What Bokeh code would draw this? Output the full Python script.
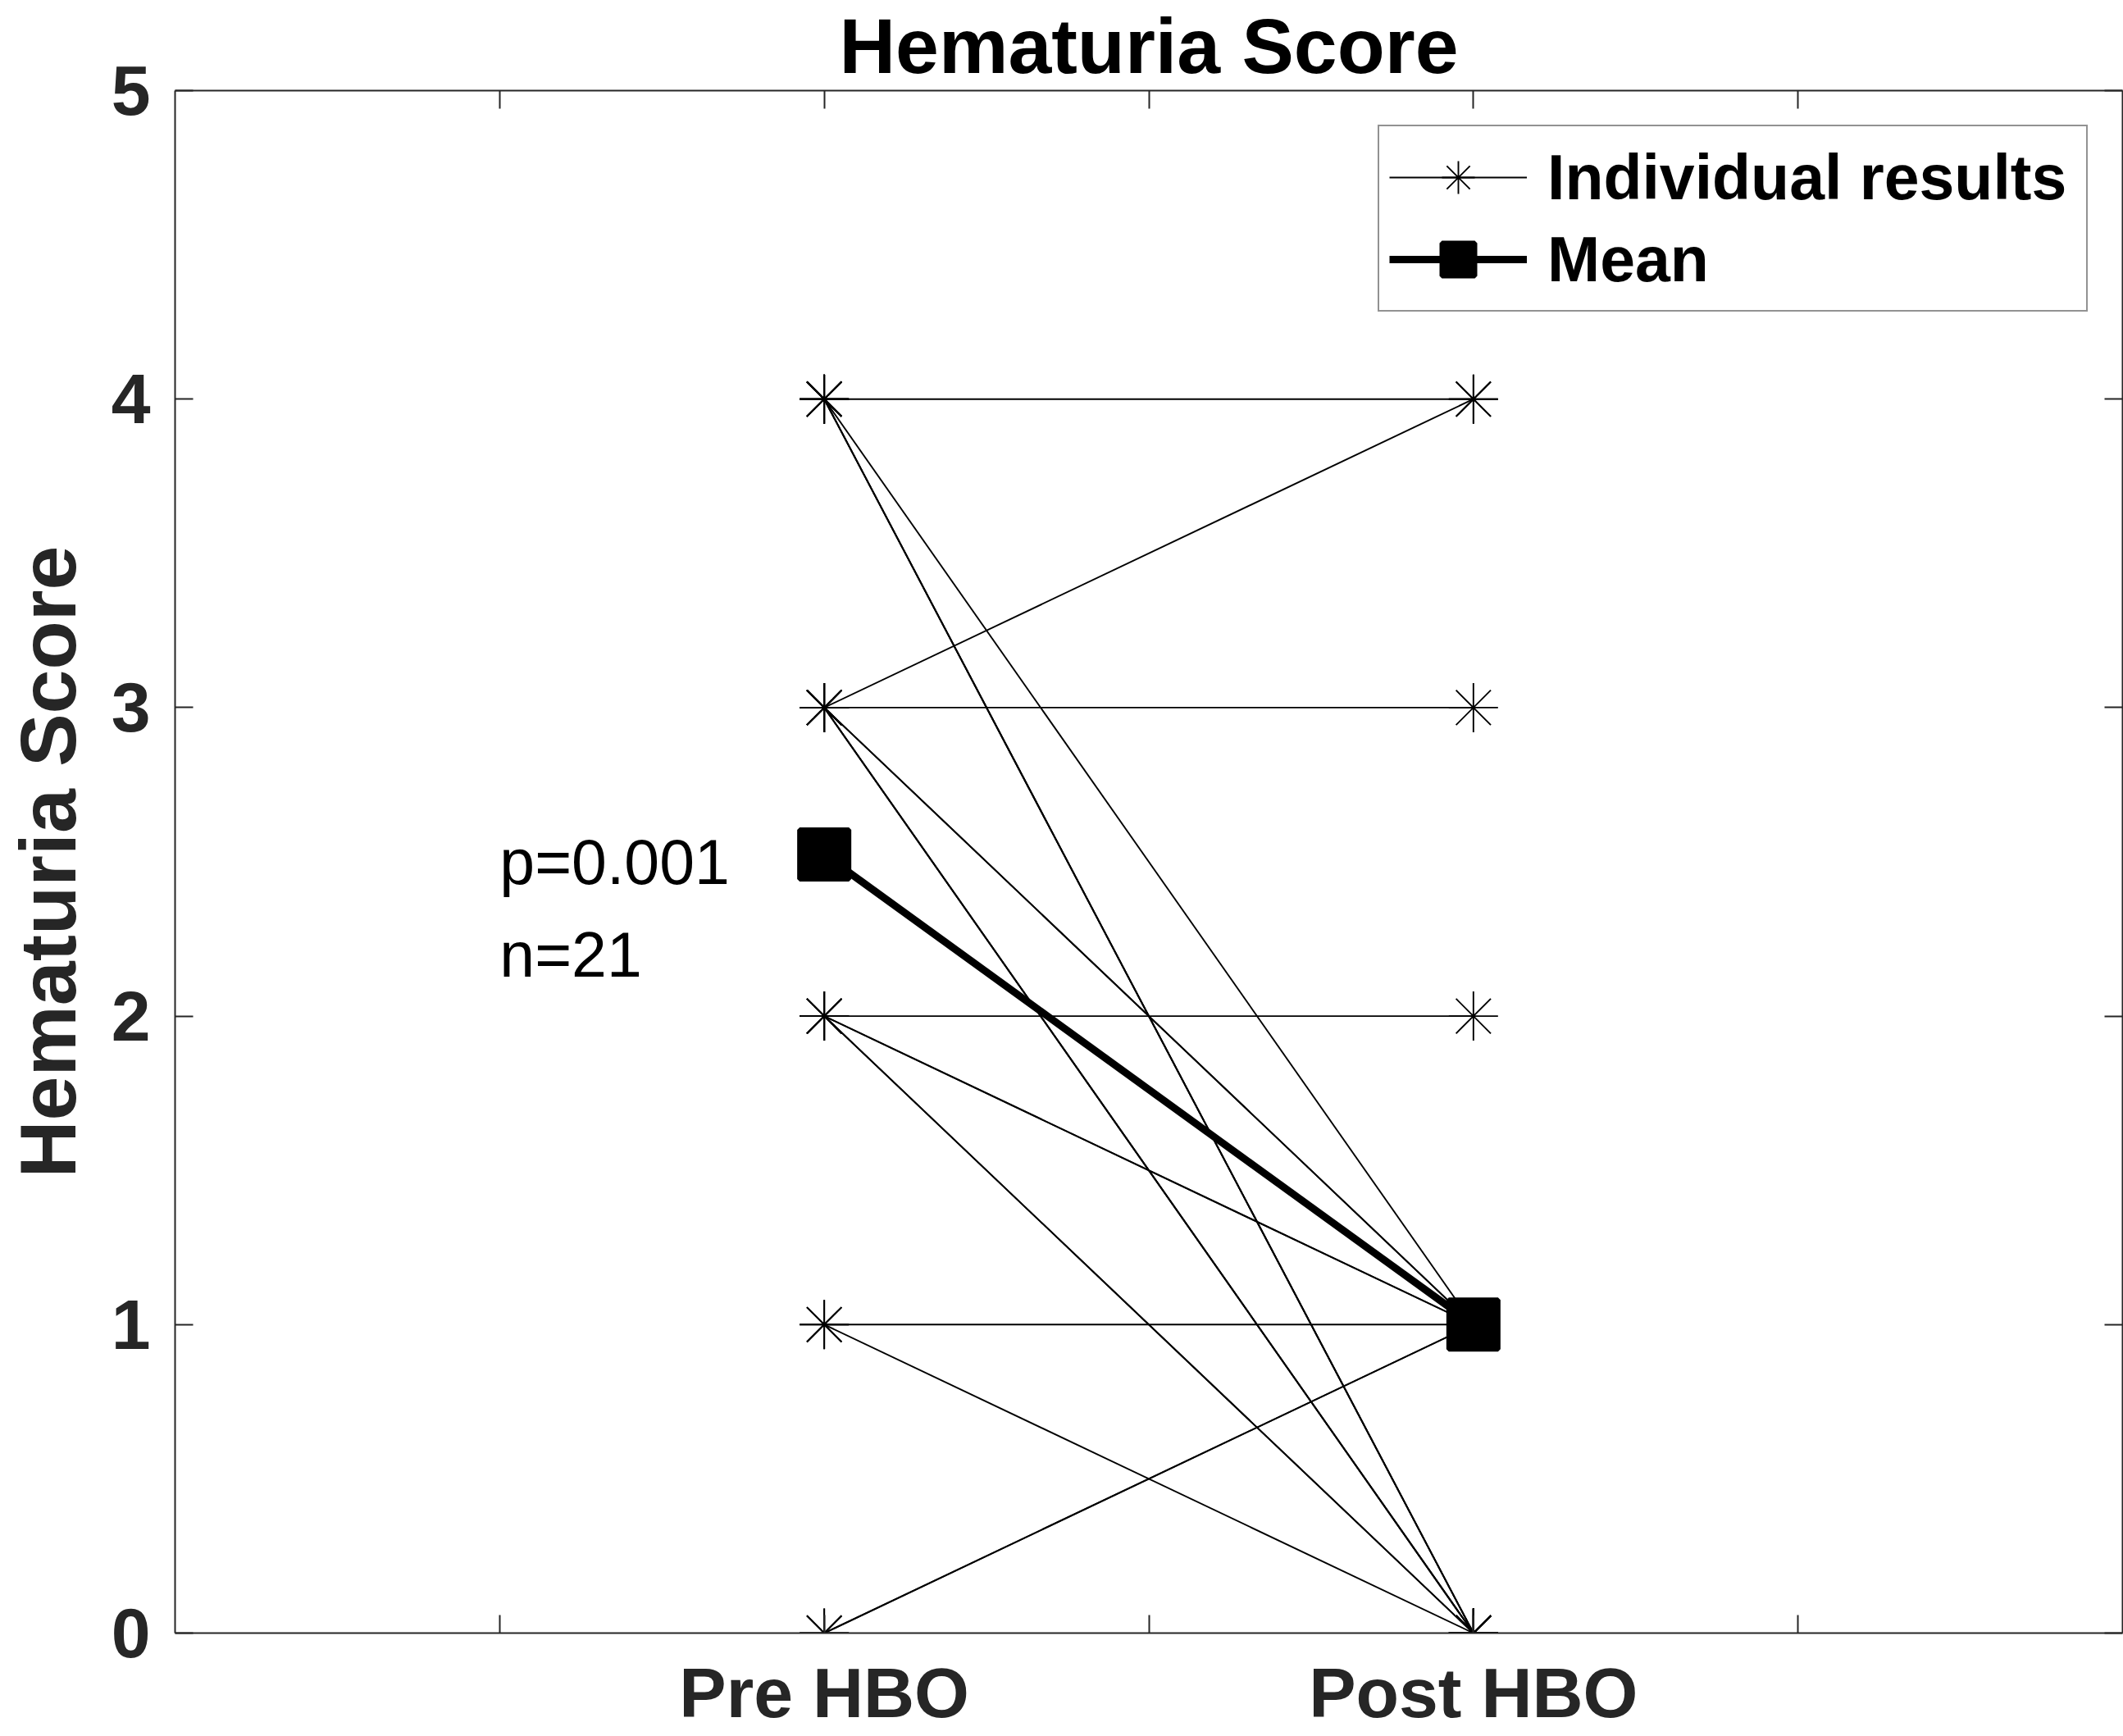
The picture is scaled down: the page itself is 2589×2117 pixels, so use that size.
import numpy as np
from bokeh.plotting import figure
from bokeh.models import (Range1d, FixedTicker, LinearAxis, Legend, LegendItem,
                          ColumnDataSource)
from bokeh.core.properties import value
from bokeh.embed import file_html
from bokeh.resources import INLINE

# Paired hematuria scores, one entry per patient (n = 21)
categories = ["Pre HBO", "Post HBO"]
pre_scores = [4, 4, 4, 4, 4,
              3, 3, 3, 3, 3, 3, 3,
              2, 2, 2, 2, 2,
              1, 1,
              0, 0]
post_scores = [4, 1, 0, 0, 0,
               4, 3, 1, 1, 0, 0, 0,
               2, 1, 1, 0, 0,
               1, 0,
               1, 1]
y_ticks = [0, 1, 2, 3, 4, 5]
annotations = ["p=0.001", "n=21"]

FONT = "Liberation Sans"
AXIS_COLOR = "#262626"

# category positions on a 0..6 axis
cat_pos = [2, 4]
tick_pos = [1, 2, 3, 4, 5]

pre = np.array(pre_scores, dtype=float)
post = np.array(post_scores, dtype=float)
means = [pre.mean(), post.mean()]

p = figure(width=2589, height=2117, output_backend="svg", toolbar_location=None,
           x_range=Range1d(0, 6), y_range=Range1d(0, 5),
           min_border_left=208, min_border_right=1,
           min_border_top=110, min_border_bottom=126,
           background_fill_color="white", border_fill_color="white")
p.xgrid.visible = False
p.ygrid.visible = False
p.outline_line_color = None

# title
p.title.text = "Hematuria Score"
p.title.align = "center"
p.title.vertical_align = "top"
p.title.text_font = FONT
p.title.text_font_style = "bold"
p.title.text_font_size = "95px"
p.title.text_color = "black"
p.title.standoff = 0


def style_axis(ax, ticks, show_labels):
    ax.ticker = FixedTicker(ticks=ticks)
    ax.axis_line_color = AXIS_COLOR
    ax.axis_line_width = 2
    ax.major_tick_line_color = AXIS_COLOR
    ax.major_tick_line_width = 2
    ax.major_tick_in = 22
    ax.major_tick_out = 0
    ax.minor_tick_line_color = None
    ax.major_label_text_font = FONT
    ax.major_label_text_font_style = "bold"
    if show_labels:
        ax.major_label_text_font_size = "86px"
        ax.major_label_text_color = AXIS_COLOR
    else:
        # tick marks only on the mirrored sides of the box
        ax.major_label_text_font_size = "1px"
        ax.major_label_text_color = None
        ax.major_label_standoff = 0


# bottom axis: category labels at the two time points only
xa = p.xaxis[0]
style_axis(xa, tick_pos, True)
overrides = {t: "" for t in tick_pos}
overrides.update({pos: lab for pos, lab in zip(cat_pos, categories)})
xa.major_label_overrides = overrides
xa.major_label_standoff = 24

ya = p.yaxis[0]
style_axis(ya, y_ticks, True)
ya.major_label_standoff = 30
ya.axis_label = "Hematuria Score"
ya.axis_label_text_font = FONT
ya.axis_label_text_font_style = "bold"
ya.axis_label_text_font_size = "97px"
ya.axis_label_text_color = AXIS_COLOR
ya.axis_label_standoff = 20

top_ax = LinearAxis()
style_axis(top_ax, tick_pos, False)
p.add_layout(top_ax, "above")
right_ax = LinearAxis()
style_axis(right_ax, y_ticks, False)
p.add_layout(right_ax, "right")

# individual patient trajectories
src = ColumnDataSource(dict(
    xs=[list(cat_pos) for _ in pre_scores],
    ys=[[a, b] for a, b in zip(pre_scores, post_scores)],
))
ind_lines = p.multi_line(xs="xs", ys="ys", source=src,
                         line_color="black", line_width=1.9)
pts_x = [cat_pos[0]] * len(pre_scores) + [cat_pos[1]] * len(post_scores)
pts_y = list(pre_scores) + list(post_scores)
ind_pts = p.scatter(x=pts_x, y=pts_y, marker="asterisk", size=60,
                    line_color="black", line_width=1.9)

# group means
mean_line = p.line(x=cat_pos, y=means, line_color="black", line_width=9)
mean_pts = p.scatter(x=cat_pos, y=means, marker="square", size=60,
                     fill_color="black", line_color="black", line_width=6)

# statistics annotation
p.text(x=[1, 1], y=[2.5, 2.2], text=annotations,
       text_font=value(FONT), text_font_size="77px",
       text_align="left", text_baseline="middle", text_color="black")

legend = Legend(items=[
    LegendItem(label="Individual results", renderers=[ind_lines, ind_pts]),
    LegendItem(label="Mean", renderers=[mean_line, mean_pts]),
], location="top_right")
legend.margin = 42
legend.padding = 12
legend.spacing = 0
legend.glyph_width = 168
legend.glyph_height = 100
legend.label_standoff = 25
legend.label_width = 645
legend.label_text_font = FONT
legend.label_text_font_style = "bold"
legend.label_text_font_size = "77px"
legend.label_text_color = "black"
legend.border_line_color = AXIS_COLOR
legend.border_line_width = 2
legend.background_fill_color = "white"
legend.background_fill_alpha = 1.0
p.add_layout(legend, "center")

open("out.html", "w").write(file_html(p, INLINE))
